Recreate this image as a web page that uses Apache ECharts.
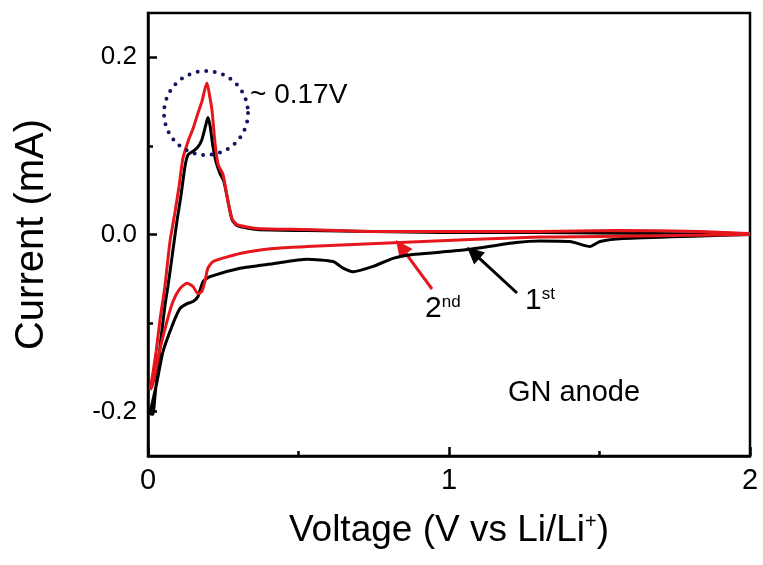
<!DOCTYPE html>
<html>
<head>
<meta charset="utf-8">
<script src="https://cdn.jsdelivr.net/npm/echarts@6/dist/echarts.min.js"></script>
<style>
  html, body { margin: 0; padding: 0; background: #fff; }
  #chart { width: 763px; height: 565px; }
</style>
</head>
<body>
<div id="chart"></div>
<script>
// 1st cycle (black): cathodic sweep 2 V -> 0 V, then anodic back to 2 V
const voltage1 = [2.0, 1.834, 1.578, 1.502, 1.468, 1.402, 1.302, 1.223, 1.060, 0.970, 0.880, 0.814, 0.748, 0.681,
  0.648, 0.615, 0.528, 0.415, 0.306, 0.206, 0.183, 0.166, 0.150, 0.130, 0.106, 0.083, 0.050, 0.030, 0.013, 0.006,
  0.016, 0.023, 0.040, 0.056, 0.066, 0.080, 0.096, 0.110, 0.123, 0.133, 0.150, 0.166, 0.179, 0.193, 0.199, 0.206,
  0.216, 0.226, 0.239, 0.252, 0.266, 0.279, 0.296, 0.362, 0.528, 0.748, 0.970, 1.302, 1.668, 2.0]
const current1 = [0.000, -0.0017, -0.0045, -0.0079, -0.0136, -0.0079, -0.0073, -0.009, -0.017, -0.020, -0.0226,
  -0.027, -0.036, -0.042, -0.038, -0.0305, -0.028, -0.033, -0.038, -0.0475, -0.053, -0.070, -0.0757, -0.078,
  -0.0836, -0.1006, -0.132, -0.166, -0.192, -0.202, -0.203, -0.183, -0.1266, -0.081, -0.059, -0.025, 0.0147,
  0.045, 0.077, 0.090, 0.094, 0.099, 0.107, 0.125, 0.132, 0.123, 0.099, 0.082, 0.069, 0.060, 0.037, 0.017,
  0.010, 0.0056, 0.0045, 0.0034, 0.0023, 0.0023, 0.0011, 0.000]

// 2nd cycle (red)
const voltage2 = [2.0, 1.502, 1.302, 0.837, 0.528, 0.415, 0.306, 0.216, 0.199, 0.189, 0.179, 0.166, 0.150, 0.130,
  0.106, 0.083, 0.063, 0.040, 0.023, 0.013, 0.007, 0.017, 0.027, 0.040, 0.056, 0.073, 0.090, 0.103, 0.116,
  0.133, 0.150, 0.166, 0.179, 0.189, 0.196, 0.206, 0.213, 0.223, 0.233, 0.249, 0.266, 0.279, 0.296, 0.362,
  0.528, 0.748, 0.970, 1.302, 1.555, 1.834, 2.0]
const current2 = [0.000, -0.0023, -0.0028, -0.009, -0.0136, -0.0158, -0.0215, -0.0305, -0.038, -0.053, -0.064,
  -0.067, -0.059, -0.055, -0.061, -0.0757, -0.098, -0.129, -0.158, -0.172, -0.175, -0.155, -0.132, -0.096,
  -0.059, -0.008, 0.026, 0.054, 0.086, 0.105, 0.120, 0.137, 0.150, 0.164, 0.171, 0.154, 0.139, 0.102, 0.079,
  0.068, 0.037, 0.018, 0.011, 0.0068, 0.0056, 0.0034, 0.0034, 0.0034, 0.0045, 0.0034, 0.001]

const xTicks = [0, 1, 2]
const yTicks = [-0.2, 0, 0.2]
const yMinorTicks = [-0.1, 0.1]

const FONT = 'Liberation Sans, Arial, sans-serif'
const RED = '#e5171d'

const zip = (xs, ys) => xs.map((x, i) => [x, ys[i]])

// arrow as graphic: shaft + filled head, pixel coords
function arrow(x1, y1, x2, y2, color) {
  const len = Math.hypot(x2 - x1, y2 - y1)
  const ux = (x2 - x1) / len, uy = (y2 - y1) / len
  const hl = 17, hw = 8
  const bx = x2 - ux * hl, by = y2 - uy * hl
  return [
    { type: 'polyline', shape: { points: [[x1, y1], [bx + ux * 3, by + uy * 3]] },
      style: { stroke: color, lineWidth: 3 } },
    { type: 'polygon', shape: { points: [[x2, y2], [bx - uy * hw, by + ux * hw], [bx + uy * hw, by - ux * hw]] },
      style: { fill: color } },
  ]
}

const chart = echarts.init(document.getElementById('chart'), null, { renderer: 'canvas' })

chart.setOption({
  backgroundColor: '#ffffff',
  animation: false,
  grid: { left: 148, top: 13, right: 13, bottom: 109, show: true, borderColor: '#000', borderWidth: 2.5 },
  xAxis: {
    type: 'value', min: 0, max: 2, interval: 1,
    name: '{a|Voltage (V vs Li/Li}{s|+}{a|)}',
    nameLocation: 'middle', nameGap: 56,
    nameTextStyle: {
      fontFamily: FONT, color: '#000',
      rich: {
        a: { fontSize: 37, fontFamily: FONT, color: '#000' },
        s: { fontSize: 20, fontFamily: FONT, color: '#000', verticalAlign: 'top' },
      },
    },
    axisLine: { show: true, onZero: false, lineStyle: { color: '#000', width: 2.5 } },
    axisTick: { show: true, inside: true, length: 9, lineStyle: { color: '#000', width: 2.5 } },
    minorTick: { show: true, splitNumber: 2, length: 5, lineStyle: { color: '#000', width: 2.5 } },
    axisLabel: { fontFamily: FONT, fontSize: 29, color: '#000', margin: 10, formatter: v => String(v),
      customValues: xTicks },
    splitLine: { show: false },
  },
  yAxis: [{
    type: 'value', min: -0.25, max: 0.25,
    name: 'Current (mA)',
    nameLocation: 'middle', nameGap: 96,
    nameTextStyle: { fontFamily: FONT, fontSize: 40, color: '#000' },
    axisLine: { show: true, onZero: false, lineStyle: { color: '#000', width: 2.5 } },
    axisTick: { show: true, inside: true, length: 9, customValues: yTicks, lineStyle: { color: '#000', width: 2.5 } },
    axisLabel: { fontFamily: FONT, fontSize: 26, color: '#000', margin: 11, customValues: yTicks,
      formatter: v => v.toFixed(1) },
    splitLine: { show: false },
  }, {
    type: 'value', min: -0.25, max: 0.25, position: 'left',
    axisLine: { show: false, onZero: false },
    axisTick: { show: true, inside: true, length: 5, customValues: yMinorTicks, lineStyle: { color: '#000', width: 2.5 } },
    axisLabel: { show: false },
    splitLine: { show: false },
  }],
  series: [
    {
      name: '1st', type: 'line', data: zip(voltage1, current1),
      showSymbol: false, smooth: 0.2, lineStyle: { color: '#000', width: 3 }, z: 2,
    },
    {
      name: '2nd', type: 'line', data: zip(voltage2, current2),
      showSymbol: false, smooth: 0.2, lineStyle: { color: RED, width: 3 }, z: 3,
    },
  ],
  graphic: [
    { type: 'circle', shape: { cx: 206, cy: 113, r: 42 }, z: 10,
      style: { fill: 'transparent', stroke: '#141464', lineWidth: 4, lineDash: [0, 8.6], lineCap: 'round' } },
    { type: 'text', x: 250, y: 95, z: 10,
      style: { text: '~ 0.17V', font: '28px ' + FONT, fill: '#000', verticalAlign: 'middle' } },
    { type: 'text', x: 574, y: 393, z: 10,
      style: { text: 'GN anode', font: '29px ' + FONT, fill: '#000', align: 'center', verticalAlign: 'middle' } },
    { type: 'text', x: 425, y: 309, z: 10,
      style: { text: '{n|2}{s|nd}', verticalAlign: 'middle', fill: '#000',
        rich: { n: { fontSize: 30, fontFamily: FONT }, s: { fontSize: 17, fontFamily: FONT, verticalAlign: 'top' } } } },
    { type: 'text', x: 525, y: 301, z: 10,
      style: { text: '{n|1}{s|st}', verticalAlign: 'middle', fill: '#000',
        rich: { n: { fontSize: 30, fontFamily: FONT }, s: { fontSize: 17, fontFamily: FONT, verticalAlign: 'top' } } } },
    ...arrow(432, 289, 396, 240, RED),
    ...arrow(517, 293, 467, 247, '#000'),
  ],
})
</script>
</body>
</html>
